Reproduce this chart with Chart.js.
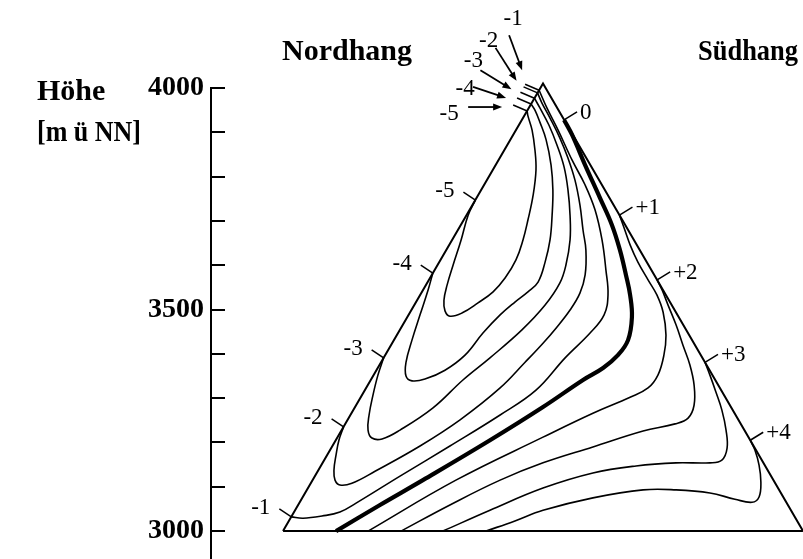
<!DOCTYPE html>
<html lang="de">
<head>
<meta charset="utf-8">
<title>Nordhang / Südhang</title>
<script src="https://cdn.jsdelivr.net/npm/chart.js@4/dist/chart.umd.min.js"></script>
<style>
  html, body { margin: 0; padding: 0; background: #fff; }
  #wrap { width: 803px; height: 559px; }
</style>
</head>
<body>
<div id="wrap"><canvas id="chart" width="803" height="559"></canvas></div>
<script>
// --- Daten: x = Lage am Hang (-100 Nordhang-Fuss, 0 Gipfel, +100 Südhang-Fuss), y = Höhe [m ü NN]
const heightTicks = [3000, 3100, 3200, 3300, 3400, 3500, 3600, 3700, 3800, 3900, 4000];
const heightLabels = [3000, 3500, 4000];

const triangle = [[-100, 3000], [0, 4010], [100, 3000], [-100, 3000]];

const contourM5 = [[-26, 3747], [-28.8, 3713], [-31.5, 3657], [-34.6, 3600], [-36.9, 3555], [-38.1, 3521],
  [-37.7, 3497], [-35.8, 3485], [-31.2, 3492], [-25, 3515], [-19.2, 3540], [-14.6, 3571], [-10.4, 3612],
  [-7.7, 3657], [-5.8, 3702], [-3.8, 3758], [-2.7, 3815], [-3.1, 3860], [-4.2, 3905], [-5.8, 3937], [-6.1, 3948]];
const contourM4 = [[-42.4, 3582], [-44.2, 3544], [-47.3, 3488], [-50.4, 3431], [-52.7, 3381], [-52.7, 3350],
  [-50.4, 3339], [-45.4, 3343], [-37.7, 3363], [-30, 3397], [-23.1, 3447], [-16.5, 3488], [-10.8, 3517],
  [-5.8, 3540], [-1.9, 3562], [0.8, 3607], [2.7, 3657], [3.5, 3713], [3.8, 3770], [3.1, 3826], [1.2, 3883],
  [-1.2, 3923], [-3.1, 3950], [-4.6, 3964]];
const contourM3 = [[-61.3, 3391], [-63.5, 3352], [-65.4, 3307], [-66.9, 3262], [-67.3, 3228], [-65.8, 3210],
  [-61.9, 3208], [-55, 3228], [-42.3, 3278], [-30.8, 3341], [-20.4, 3391], [-8.1, 3454], [0.8, 3510],
  [6.5, 3560], [8.8, 3600], [10.4, 3657], [10.4, 3713], [9.6, 3770], [8.1, 3822], [5.4, 3871], [2.3, 3916],
  [-1.2, 3955], [-3.3, 3977]];
const contourM2 = [[-76.7, 3235], [-78.5, 3205], [-79.6, 3172], [-80.4, 3138], [-80, 3115], [-78.1, 3104],
  [-73.5, 3108], [-64.6, 3135], [-47.3, 3192], [-31.9, 3251], [-16.5, 3323], [-6.9, 3381], [0, 3424],
  [5, 3458], [10.4, 3499], [14.2, 3537], [16.2, 3578], [16.5, 3634], [15.4, 3679], [14.2, 3736], [12.3, 3792],
  [9.6, 3842], [6.5, 3887], [2.7, 3932], [-0.4, 3966], [-2.1, 3989]];
const contourM1 = [[-96.8, 3032], [-92.3, 3029], [-85, 3034], [-78.1, 3043], [-71.9, 3063], [-55, 3124],
  [-35.8, 3192], [-16.5, 3262], [-2.7, 3318], [8.5, 3391], [18.1, 3447], [23.5, 3488], [25, 3533],
  [24.2, 3589], [22.7, 3657], [20, 3725], [16.2, 3781], [11.2, 3837], [5.8, 3905], [1.5, 3955], [-1.5, 3995]];
const contour0 = [[-79.6, 3000], [-62.7, 3059], [-46.2, 3115], [-20.4, 3205], [0, 3280], [15.4, 3341],
  [23.1, 3368], [28.8, 3397], [32.7, 3431], [34.2, 3483], [33.5, 3533], [31.9, 3578], [29.6, 3634],
  [26.5, 3691], [21.9, 3752], [16.2, 3826], [11.2, 3894], [8.1, 3928]];
const contourP1 = [[-67.3, 3000], [-33.5, 3115], [0, 3212], [19.2, 3266], [33.5, 3302], [40.4, 3323],
  [44.2, 3352], [46.5, 3397], [47.3, 3442], [46.2, 3494], [43.8, 3533], [40.4, 3567], [36.5, 3607],
  [33.5, 3646], [31.2, 3684], [29.4, 3713]];
const contourP2 = [[-54.6, 3000], [-35.8, 3059], [-16.5, 3115], [0, 3154], [19.2, 3190], [38.5, 3226],
  [50.8, 3242], [55.8, 3255], [58.1, 3284], [58.1, 3330], [56.5, 3375], [53.8, 3420], [51.2, 3465],
  [48.1, 3510], [45.8, 3544], [43.9, 3567]];
const contourP3 = [[-38.5, 3000], [-20.4, 3047], [0, 3097], [19.2, 3131], [35.8, 3147], [51.2, 3154],
  [64.2, 3154], [68.8, 3160], [70.8, 3187], [70.4, 3228], [68.8, 3273], [66.5, 3314], [64.2, 3352], [62.3, 3381]];
const contourP4 = [[-21.9, 3000], [-10.8, 3023], [0, 3047], [19.2, 3075], [38.5, 3093], [51.2, 3093],
  [64.2, 3086], [73.8, 3072], [80.4, 3065], [83.1, 3077], [83.8, 3111], [83.1, 3149], [81.5, 3183], [79.7, 3205]];

const levels = ['-5', '-4', '-3', '-2', '-1', '0', '+1', '+2', '+3', '+4'];
const contours = [contourM5, contourM4, contourM3, contourM2, contourM1, contour0, contourP1, contourP2, contourP3, contourP4];

// --- Layout der Beschriftungen (Pixelversatz zum Linienende)
const FONT = "'Liberation Serif', 'Times New Roman', serif";
const apexLayout = {
  '-1': { label: [-26, -71], tail: [-30, -55], tip: [-17, -20] },
  '-2': { label: [-49, -52], tail: [-42, -45], tip: [-21, -12] },
  '-3': { label: [-61, -37], tail: [-54, -28], tip: [-23, -9] },
  '-4': { label: [-66, -15], tail: [-58, -17], tip: [-25, -6] },
  '-5': { label: [-78, 3], tail: [-59, -4], tip: [-25, -4] }
};

function toXY(arr) {
  return arr.map(p => ({ x: p[0], y: p[1] }));
}

function arrow(ctx, x1, y1, x2, y2) {
  const a = Math.atan2(y2 - y1, x2 - x1);
  const len = 9, half = 3.5;
  ctx.beginPath();
  ctx.moveTo(x1, y1);
  ctx.lineTo(x2 - Math.cos(a) * len * 0.8, y2 - Math.sin(a) * len * 0.8);
  ctx.stroke();
  ctx.beginPath();
  ctx.moveTo(x2, y2);
  ctx.lineTo(x2 - Math.cos(a) * len - Math.sin(a) * half, y2 - Math.sin(a) * len + Math.cos(a) * half);
  ctx.lineTo(x2 - Math.cos(a) * len + Math.sin(a) * half, y2 - Math.sin(a) * len - Math.cos(a) * half);
  ctx.closePath();
  ctx.fill();
}

// Tickmarken rechts der Achse, Beschriftungen der Isolinien, Titel
const annotations = {
  id: 'annotations',
  afterDraw(chart) {
    const { ctx, chartArea, scales: { x, y } } = chart;
    const px = p => [x.getPixelForValue(p[0]), y.getPixelForValue(p[1])];
    ctx.save();
    ctx.strokeStyle = '#000';
    ctx.fillStyle = '#000';
    ctx.lineCap = 'butt';

    // kurze Striche an der Höhenachse
    ctx.lineWidth = 2;
    heightTicks.forEach(v => {
      const yy = Math.round(y.getPixelForValue(v));
      ctx.beginPath();
      ctx.moveTo(chartArea.left, yy);
      ctx.lineTo(chartArea.left + 14, yy);
      ctx.stroke();
    });

    // Isolinien-Beschriftung an den Flanken
    ctx.lineWidth = 1.5;
    ctx.font = '23px ' + FONT;
    ctx.textBaseline = 'middle';
    levels.forEach((lvl, i) => {
      const line = contours[i];
      const neg = lvl.startsWith('-');
      const [ax, ay] = px(neg ? line[0] : line[line.length - 1]);
      const ex = neg ? ax - 12 : ax + 13;
      const ey = neg ? ay - 8 : ay - 8;
      ctx.beginPath();
      ctx.moveTo(ax, ay);
      ctx.lineTo(ex, ey);
      ctx.stroke();
      if (neg) {
        ctx.textAlign = 'right';
        ctx.fillText(lvl, ex - 9, ey - 1);
      } else {
        ctx.textAlign = 'left';
        ctx.fillText(lvl, ex + 3, ey + 1);
      }
    });

    // Beschriftung am Gipfel (Pfeile)
    Object.keys(apexLayout).forEach(lvl => {
      const line = contours[levels.indexOf(lvl)];
      const [ax, ay] = px(line[line.length - 1]);
      const o = apexLayout[lvl];
      ctx.lineWidth = 1.5;
      ctx.beginPath();
      ctx.moveTo(ax, ay);
      ctx.lineTo(ax - 14, ay - 6);
      ctx.stroke();
      ctx.lineWidth = 1.8;
      arrow(ctx, ax + o.tail[0], ay + o.tail[1], ax + o.tip[0], ay + o.tip[1]);
      ctx.textAlign = 'center';
      ctx.fillText(lvl, ax + o.label[0], ay + o.label[1]);
    });

    // Titel
    ctx.font = 'bold 30px ' + FONT;
    ctx.textBaseline = 'alphabetic';
    ctx.textAlign = 'center';
    ctx.fillText('Nordhang', 347, 60);
    ctx.textAlign = 'right';
    ctx.fillText('Südhang', 798, 60, 100);
    ctx.textAlign = 'left';
    ctx.fillText('Höhe', 37, 100, 76);
    ctx.fillText('[m ü NN]', 37, 141, 104);
    ctx.restore();
  }
};

const datasets = [{
  data: toXY(triangle),
  borderColor: '#000',
  borderWidth: 2,
  tension: 0,
  borderJoinStyle: 'miter'
}].concat(contours.map((c, i) => ({
  data: toXY(c),
  borderColor: '#000',
  borderWidth: levels[i] === '0' ? 4.2 : 1.6,
  tension: 0.4
})));

new Chart(document.getElementById('chart'), {
  type: 'scatter',
  data: {
    datasets: datasets.map(d => Object.assign(d, {
      showLine: true, pointRadius: 0, fill: false, clip: false
    }))
  },
  options: {
    responsive: false,
    animation: false,
    layout: { padding: { top: 88, right: 0, bottom: 0, left: 0 } },
    plugins: { legend: { display: false }, tooltip: { enabled: false } },
    scales: {
      x: { type: 'linear', min: -127.7, max: 100, display: false },
      y: {
        type: 'linear',
        min: 2937,
        max: 4000,
        afterBuildTicks: scale => { scale.ticks = heightTicks.map(v => ({ value: v })); },
        afterFit: scale => {
          scale.width = 211;
          scale.paddingTop = 0;
          scale.paddingBottom = 0;
        },
        grid: { display: false, drawTicks: false },
        border: { display: true, color: '#000', width: 2 },
        ticks: {
          padding: 7,
          color: '#000',
          font: { family: FONT, size: 28, weight: 'bold' },
          callback: v => heightLabels.includes(v) ? String(v) : ''
        }
      }
    }
  },
  plugins: [annotations]
});
</script>
</body>
</html>
